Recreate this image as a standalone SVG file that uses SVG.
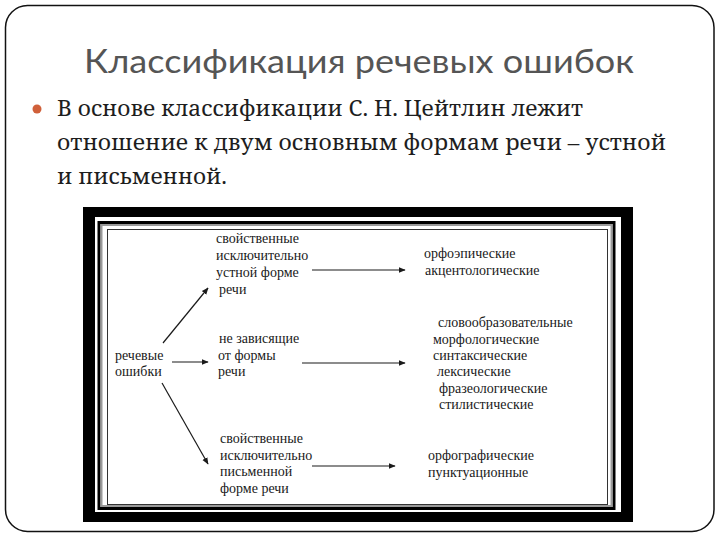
<svg xmlns="http://www.w3.org/2000/svg" width="720" height="540" viewBox="0 0 720 540">
  <style>
    .title { font-family: Lato, sans-serif; font-size: 33px; fill: #555555; }
    .body { font-family: Noto Serif, Liberation Serif, serif; font-size: 21px; fill: #1e1e1e; }
    .lbl { font-family: Liberation Serif, serif; font-size: 14px; fill: #1a1a1a; }
    .conn { stroke: #1a1a1a; stroke-width: 1.2; fill: none; marker-end: url(#arr); }
  </style>
  <defs>
    <marker id="arr" viewBox="0 0 10 10" refX="9" refY="5" markerWidth="7" markerHeight="7" markerUnits="userSpaceOnUse" orient="auto">
      <path d="M0,1 L10,5 L0,9 Z" fill="#1a1a1a"/>
    </marker>
  </defs>
  <rect x="0" y="0" width="720" height="540" fill="#ffffff"/>
  <g id="card">
    <rect x="5.5" y="5.5" width="708.5" height="526" rx="22" ry="22" fill="#ffffff" stroke="#111111" stroke-width="1.5"/>
  </g>
  <g id="title">
    <text class="title" x="84" y="73" textLength="550" lengthAdjust="spacingAndGlyphs">Классификация речевых ошибок</text>
  </g>
  <g id="bullet">
    <circle cx="37" cy="109" r="4.5" fill="#d0603a"/>
    <text class="body" x="57" y="116" textLength="526" lengthAdjust="spacingAndGlyphs">В основе классификации С. Н. Цейтлин лежит</text>
    <text class="body" x="57" y="150" textLength="609" lengthAdjust="spacingAndGlyphs">отношение к двум основным формам речи – устной</text>
    <text class="body" x="57" y="184" textLength="170" lengthAdjust="spacingAndGlyphs">и письменной.</text>
  </g>
  <g id="frame">
    <rect x="83" y="207" width="550" height="315" fill="#000000"/>
    <rect x="95" y="217" width="526" height="295" fill="#ffffff"/>
    <rect x="99" y="222.5" width="515" height="286" fill="none" stroke="#000000" stroke-width="3"/>
    <rect x="101.5" y="225" width="510" height="281" fill="none" stroke="#9a9a9a" stroke-width="2"/>
    <rect x="107.5" y="229.5" width="500" height="275" fill="none" stroke="#333333" stroke-width="1"/>
  </g>
  <g id="node-root">
    <text class="lbl" x="115" y="360">речевые</text>
    <text class="lbl" x="115" y="376">ошибки</text>
  </g>
  <g id="node-oral">
    <text class="lbl" x="216" y="243">свойственные</text>
    <text class="lbl" x="216" y="260">исключительно</text>
    <text class="lbl" x="216" y="277">устной форме</text>
    <text class="lbl" x="219" y="294">речи</text>
  </g>
  <g id="node-indep">
    <text class="lbl" x="219" y="343">не зависящие</text>
    <text class="lbl" x="218" y="360">от формы</text>
    <text class="lbl" x="218" y="376">речи</text>
  </g>
  <g id="node-written">
    <text class="lbl" x="220" y="443">свойственные</text>
    <text class="lbl" x="220" y="460">исключительно</text>
    <text class="lbl" x="220" y="476">письменной</text>
    <text class="lbl" x="220" y="493">форме речи</text>
  </g>
  <g id="node-oral-types">
    <text class="lbl" x="424" y="258">орфоэпические</text>
    <text class="lbl" x="425" y="275">акцентологические</text>
  </g>
  <g id="node-indep-types">
    <text class="lbl" x="438" y="327">словообразовательные</text>
    <text class="lbl" x="433" y="344">морфологические</text>
    <text class="lbl" x="433" y="360">синтаксические</text>
    <text class="lbl" x="437" y="376">лексические</text>
    <text class="lbl" x="439" y="393">фразеологические</text>
    <text class="lbl" x="439" y="409">стилистические</text>
  </g>
  <g id="node-written-types">
    <text class="lbl" x="428" y="460">орфографические</text>
    <text class="lbl" x="428" y="477">пунктуационные</text>
  </g>
  <g id="connectors">
    <line class="conn" x1="163" y1="343" x2="208" y2="288"/>
    <line class="conn" x1="172" y1="362" x2="208" y2="362"/>
    <line class="conn" x1="162" y1="383" x2="208" y2="464"/>
    <line class="conn" x1="312" y1="270" x2="405" y2="270"/>
    <line class="conn" x1="302" y1="363" x2="405" y2="363"/>
    <line class="conn" x1="312" y1="466" x2="395" y2="466"/>
  </g>
</svg>
